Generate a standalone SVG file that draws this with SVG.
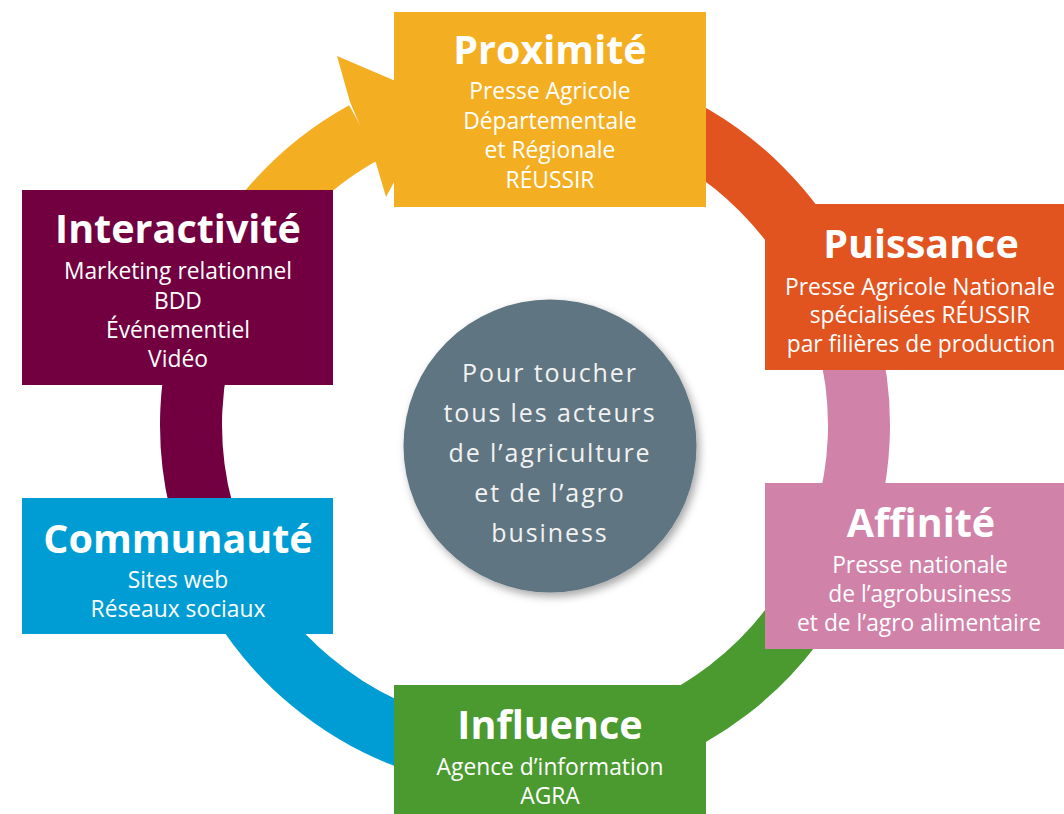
<svg xmlns="http://www.w3.org/2000/svg" width="1064" height="814" viewBox="0 0 1064 814">
<defs>
<style>
.ring{fill:none;stroke-width:62;stroke-linecap:butt}
.t{font-family:"Open Sans","Liberation Sans",sans-serif;font-weight:700;font-size:39.5px;fill:#fff;text-anchor:middle}
.s{font-family:"Open Sans","Liberation Sans",sans-serif;font-size:22.8px;fill:#fff;text-anchor:middle}
.c{font-family:"Open Sans","Liberation Sans",sans-serif;font-size:25px;letter-spacing:1.9px;fill:#F2F2F2;text-anchor:middle}
</style>
<filter id="sh" x="-20%" y="-20%" width="140%" height="140%">
<feDropShadow dx="3" dy="4" stdDeviation="4" flood-color="#000" flood-opacity="0.35"/>
</filter>
</defs>
<rect width="1064" height="814" fill="#fff"/>
<g id="connectors">
<path class="ring" stroke="#E1531F" d="M639.2 111.1 A334 334 0 0 1 838.9 310.8"/>
<path class="ring" stroke="#D082A9" d="M847.6 338.6 A334 334 0 0 1 838.9 539.2"/>
<path class="ring" stroke="#4A9A30" d="M827.7 566.2 A334 334 0 0 1 583.0 753.9"/>
<path class="ring" stroke="#009DD4" d="M467.0 753.9 A334 334 0 0 1 211.1 539.2"/>
<path class="ring" stroke="#720040" d="M202.4 511.4 A334 334 0 0 1 211.1 310.8"/>
<path class="ring" stroke="#F4AE22" d="M211.1 310.8 A334 334 0 0 1 364.1 132.3"/>
<polygon fill="#F4AE22" points="337,56 438.8,99.6 386,197 376,163 350,102"/>
</g>
<g id="center">
<circle cx="550" cy="446" r="146.5" fill="#5E7581" filter="url(#sh)"/>
<text class="c" x="550" y="382">Pour toucher</text>
<text class="c" x="550" y="422">tous les acteurs</text>
<text class="c" x="550" y="462">de l’agriculture</text>
<text class="c" x="550" y="502">et de  l’agro</text>
<text class="c" x="550" y="542">business</text>
</g>
<g id="proximite">
<rect x="394" y="12" width="312" height="195" fill="#F4AE22"/>
<text class="t" x="550" y="64">Proximité</text>
<text class="s" x="550" y="99">Presse Agricole</text>
<text class="s" x="550" y="128.5">Départementale</text>
<text class="s" x="550" y="158">et Régionale</text>
<text class="s" x="550" y="187.5">RÉUSSIR</text>
</g>
<g id="puissance">
<rect x="765" y="204" width="299" height="166" fill="#E1531F"/>
<text class="t" x="921" y="258">Puissance</text>
<text class="s" x="920" y="294.5">Presse Agricole Nationale</text>
<text class="s" x="920" y="323">spécialisées RÉUSSIR</text>
<text class="s" x="921" y="351.5">par filières de production</text>
</g>
<g id="affinite">
<rect x="765" y="483" width="299" height="166" fill="#D082A9"/>
<text class="t" x="921" y="537">Affinité</text>
<text class="s" x="920" y="573">Presse nationale</text>
<text class="s" x="920" y="602">de l’agrobusiness</text>
<text class="s" x="919" y="631">et de l’agro alimentaire</text>
</g>
<g id="influence">
<rect x="394" y="685" width="312" height="129" fill="#4A9A30"/>
<text class="t" x="550" y="739">Influence</text>
<text class="s" x="550" y="775">Agence d’information</text>
<text class="s" x="550" y="803.5">AGRA</text>
</g>
<g id="communaute">
<rect x="22" y="498" width="311" height="136" fill="#009DD4"/>
<text class="t" x="178" y="553">Communauté</text>
<text class="s" x="178" y="588">Sites web</text>
<text class="s" x="178" y="616.5">Réseaux sociaux</text>
</g>
<g id="interactivite">
<rect x="22" y="190" width="311" height="195" fill="#720040"/>
<text class="t" x="178" y="243">Interactivité</text>
<text class="s" x="178" y="279">Marketing relationnel</text>
<text class="s" x="178" y="308.5">BDD</text>
<text class="s" x="178" y="338">Événementiel</text>
<text class="s" x="178" y="367">Vidéo</text>
</g>
</svg>
